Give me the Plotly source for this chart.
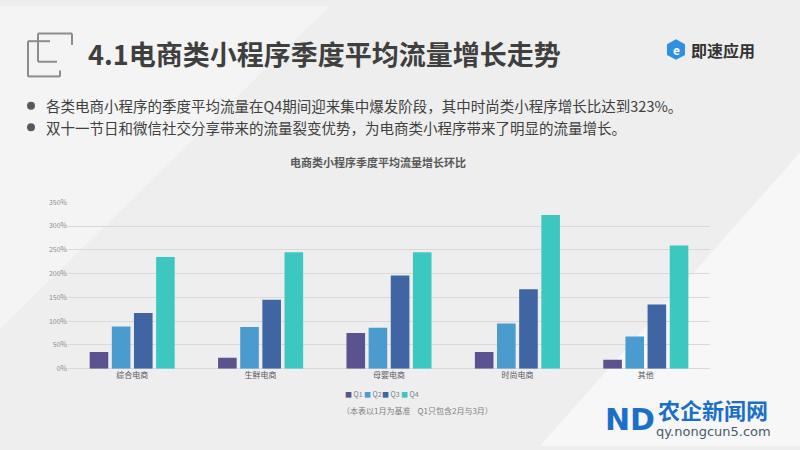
import plotly.graph_objects as go

categories = ["综合电商", "生鲜电商", "母婴电商", "时尚电商", "其他"]
series_names = ["Q1", "Q2", "Q3", "Q4"]
q1 = [35, 23, 75, 35, 19]
q2 = [89, 88, 86, 95, 68]
q3 = [117, 145, 196, 167, 135]
q4 = [235, 245, 245, 323, 259]
series_values = [q1, q2, q3, q4]
colors = ["#5A5390", "#4A9BCE", "#3F66A2", "#3CC8C1"]
y_ticks = [0, 50, 100, 150, 200, 250, 300, 350]
y_ticklabels = [f"{v}%" for v in y_ticks]

W, H = 800, 450
FONT = "Noto Sans CJK SC"


def px(x):
    return x / W


def py(y):
    return 1 - y / H


fig = go.Figure()
for name, vals, c in zip(series_names, series_values, colors):
    fig.add_trace(go.Bar(x=categories, y=vals, name=name, marker=dict(color=c, line=dict(width=0)),
                         showlegend=False))

shapes = []
# background light bands
shapes.append(dict(type="path", xref="paper", yref="paper", layer="below",
                   path=f"M {px(540)} {py(450)} L {px(800)} {py(150)} L {px(800)} {py(450)} Z",
                   fillcolor="rgba(255,255,255,0.55)", line=dict(width=0)))
shapes.append(dict(type="path", xref="paper", yref="paper", layer="below",
                   path=f"M 0 1 L {px(330)} 1 L 0 {py(330)} Z",
                   fillcolor="rgba(255,255,255,0.35)", line=dict(width=0)))
# title icon
icon_lines = [
    (38, 28, 72, 28), (72, 28, 72, 40), (38, 28, 38, 57), (38, 57, 57, 57),
    (28, 36, 28, 72), (28, 36, 50, 36), (28, 72, 60, 72), (60, 66, 60, 72),
]
for x0, y0, x1, y1 in icon_lines:
    shapes.append(dict(type="line", xref="paper", yref="paper", x0=px(x0), y0=py(y0), x1=px(x1), y1=py(y1),
                       line=dict(color="#8C8C8C", width=2)))
# bullets
for yb in (102, 124):
    shapes.append(dict(type="circle", xref="paper", yref="paper", x0=px(27), x1=px(35), y0=py(yb - 4), y1=py(yb + 4),
                       fillcolor="#595959", line=dict(width=0)))
# logo hex
shapes.append(dict(type="path", xref="paper", yref="paper",
                   path=f"M {px(676)} {py(34)} L {px(685)} {py(39)} L {px(685)} {py(50)} L {px(676)} {py(55)} L {px(667)} {py(50)} L {px(667)} {py(39)} Z",
                   fillcolor="#2F8FE0", line=dict(width=0)))

annotations = []
annotations.append(dict(text="<b>4.1电商类小程序季度平均流量增长走势</b>", x=px(86), y=py(49), xref="paper", yref="paper",
                        xanchor="left", yanchor="middle", showarrow=False,
                        font=dict(family=FONT, size=27, color="#3F3F3F")))
annotations.append(dict(text="<b>即速应用</b>", x=px(689), y=py(45), xref="paper", yref="paper",
                        xanchor="left", yanchor="middle", showarrow=False,
                        font=dict(family=FONT, size=16, color="#333333")))
annotations.append(dict(text="<b>e</b>", x=px(676), y=py(45), xref="paper", yref="paper",
                        xanchor="center", yanchor="middle", showarrow=False,
                        font=dict(family=FONT, size=12, color="white")))
bullets = ["各类电商小程序的季度平均流量在Q4期间迎来集中爆发阶段，其中时尚类小程序增长比达到323%。",
           "双十一节日和微信社交分享带来的流量裂变优势，为电商类小程序带来了明显的流量增长。"]
for t, yb in zip(bullets, (102, 124)):
    annotations.append(dict(text=t, x=px(44), y=py(yb), xref="paper", yref="paper",
                            xanchor="left", yanchor="middle", showarrow=False,
                            font=dict(family=FONT, size=14.5, color="#404040")))
annotations.append(dict(text="<b>电商类小程序季度平均流量增长环比</b>", x=px(378), y=py(160), xref="paper", yref="paper",
                        xanchor="center", yanchor="middle", showarrow=False,
                        font=dict(family=FONT, size=11, color="#595959")))
# legend (manual, from series names/colors)
lx = 343
for name, c in zip(series_names, colors):
    annotations.append(dict(text=f"<span style='color:{c}'>■</span> {name}", x=px(lx), y=py(397), xref="paper", yref="paper",
                            xanchor="left", yanchor="middle", showarrow=False,
                            font=dict(family=FONT, size=7, color="#7F7F7F")))
    lx += 18.5
annotations.append(dict(text="（本表以1月为基准    Q1只包含2月与3月）", x=px(340), y=py(414), xref="paper", yref="paper",
                        xanchor="left", yanchor="middle", showarrow=False,
                        font=dict(family=FONT, size=8, color="#7F7F7F")))
# site watermark
annotations.append(dict(text="<b>ND</b>", x=px(603), y=py(423), xref="paper", yref="paper",
                        xanchor="left", yanchor="middle", showarrow=False,
                        font=dict(family="DejaVu Sans", size=30, color="#1C6FC9")))
annotations.append(dict(text="<b>农企新闻网</b>", x=px(656), y=py(412), xref="paper", yref="paper",
                        xanchor="left", yanchor="middle", showarrow=False,
                        font=dict(family=FONT, size=22, color="#1C6FC9")))
annotations.append(dict(text="qy.nongcun5.com", x=px(654), y=py(435), xref="paper", yref="paper",
                        xanchor="left", yanchor="middle", showarrow=False,
                        font=dict(family="DejaVu Sans", size=13, color="#4A5A6A")))

fig.update_layout(
    width=W, height=H,
    margin=dict(l=0, r=0, t=0, b=0),
    paper_bgcolor="#EEEEEE",
    plot_bgcolor="rgba(0,0,0,0)",
    barmode="group", bargap=0.31, bargroupgap=0.16,
    font=dict(family=FONT),
    xaxis=dict(domain=[px(68), px(710)], showgrid=False, showline=False, ticks="",
               tickfont=dict(family=FONT, size=8, color="#595959")),
    yaxis=dict(domain=[py(371), py(200.7)], range=[0, 350], tickvals=y_ticks, ticktext=y_ticklabels,
               gridcolor="#D9D9D9", gridwidth=1, zeroline=True, zerolinecolor="#D9D9D9", zerolinewidth=1,
               showline=False, ticks="", tickfont=dict(family=FONT, size=7, color="#8C8C8C")),
    shapes=shapes, annotations=annotations,
)

fig.write_html("out.html")
